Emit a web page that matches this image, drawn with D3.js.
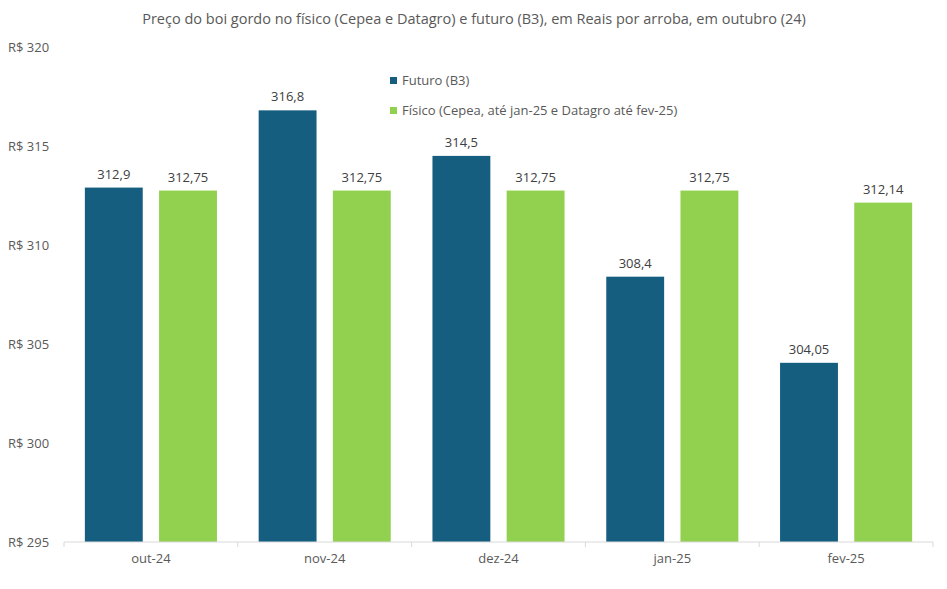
<!DOCTYPE html>
<html><head><meta charset="utf-8">
<script src="https://cdn.jsdelivr.net/npm/d3@7"></script>
<style>body{margin:0;background:#fff}</style>
</head><body>
<svg id="c" width="947" height="589"></svg>
<script>
const categories = ["out-24","nov-24","dez-24","jan-25","fev-25"];
const futuro = [312.9, 316.8, 314.5, 308.4, 304.05];
const fisico = [312.75, 312.75, 312.75, 312.75, 312.14];
const seriesNames = ["Futuro (B3)", "Físico (Cepea, até jan-25 e Datagro até fev-25)"];
const yTicks = [295, 300, 305, 310, 315, 320];
const title = "Preço do boi gordo no físico (Cepea e Datagro) e futuro (B3), em Reais por arroba, em outubro (24)";
const colors = ["#155e80", "#92d050"];

(function(){
const svg = d3.select("#c");
const font = "'Open Sans', sans-serif";
const pLeft = 64, pRight = 933, pTop = 47, pBottom = 542;

const x0 = d3.scaleBand().domain(categories).range([pLeft, pRight]).paddingInner(0.24).paddingOuter(0.12);
const x1 = d3.scaleBand().domain([0,1]).range([0, x0.bandwidth()]).paddingInner(0.22);
const y = d3.scaleLinear().domain([295, 320]).range([pBottom, pTop]);

svg.append("text").attr("x", 474).attr("y", 24).attr("text-anchor","middle")
  .attr("font-family", font).attr("font-size", 14.5).attr("fill","#595959").text(title);

svg.selectAll(".yl").data(yTicks).enter().append("text")
  .attr("x", 8).attr("y", d => y(d) + 5)
  .attr("font-family", font).attr("font-size", 13).attr("fill","#595959")
  .text(d => "R$ " + d);

const data = categories.map((c,i)=>({c, v:[futuro[i], fisico[i]]}));
const fmt = v => String(v).replace(".", ",");

const g = svg.selectAll(".cat").data(data).enter().append("g")
  .attr("transform", d => `translate(${x0(d.c)},0)`);
g.selectAll("rect").data(d => d.v).enter().append("rect")
  .attr("x", (d,i) => x1(i)).attr("width", x1.bandwidth())
  .attr("y", d => y(d)).attr("height", d => y(295) - y(d))
  .attr("fill", (d,i) => colors[i]);
g.selectAll(".lbl").data(d => d.v).enter().append("text")
  .attr("x", (d,i) => x1(i) + x1.bandwidth()/2).attr("y", d => y(d) - 9)
  .attr("text-anchor","middle").attr("font-family", font).attr("font-size", 13).attr("fill","#404040")
  .text(d => fmt(d));

const xAxis = d3.axisBottom(x0).tickSize(0).tickPadding(12);
const ax = svg.append("g").attr("transform", `translate(0,${pBottom})`).call(xAxis);
ax.select(".domain").attr("stroke","#d9d9d9").attr("d", `M${pLeft},0H${pRight}`);
ax.selectAll("text").attr("font-family", font).attr("font-size", 13).attr("fill","#595959");
const step = (pRight-pLeft)/categories.length;
svg.append("g").selectAll("line").data(d3.range(categories.length+1)).enter().append("line")
  .attr("x1", i => pLeft + i*step).attr("x2", i => pLeft + i*step)
  .attr("y1", pBottom).attr("y2", pBottom+5).attr("stroke","#d9d9d9");

const lg = svg.append("g");
seriesNames.forEach((n,i)=>{
  const yy = 81 + i*30;
  lg.append("rect").attr("x", 390).attr("y", yy-4).attr("width", 7).attr("height", 7).attr("fill", colors[i]);
  lg.append("text").attr("x", 402).attr("y", yy+4).attr("font-family", font).attr("font-size", 13)
    .attr("fill","#595959").text(n);
});
})();
</script>
</body></html>
